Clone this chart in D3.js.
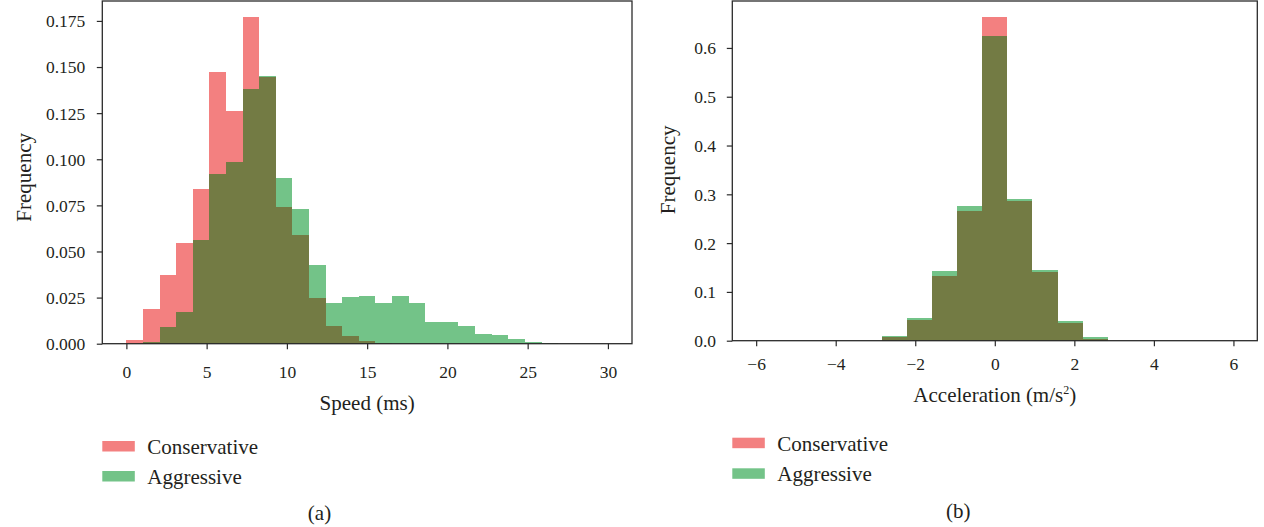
<!DOCTYPE html>
<html>
<head>
<meta charset="utf-8">
<script src="https://cdn.jsdelivr.net/npm/d3@7"></script>
<style>
  html, body { margin: 0; padding: 0; background: #fff; }
  svg { display: block; }
  text { font-family: "Liberation Serif", "Times New Roman", serif; fill: #231f20; }
</style>
</head>
<body>
<svg id="chart" width="1264" height="527"></svg>
<script>
// ---------------- data ----------------
const seriesNames = ["Conservative", "Aggressive"];

// (a) Speed histogram: 29 equal bins from 0 to 30
const speedBinStart = 0, speedBinEnd = 30, speedBinCount = 29;
const speedConservative = [0.0022, 0.0187, 0.0374, 0.0544, 0.0837, 0.1475, 0.1264, 0.1770, 0.1445, 0.0741,
  0.0591, 0.0246, 0.0094, 0.0042, 0.0012, 0.0002, 0.0001, 0, 0, 0, 0, 0, 0, 0, 0, 0, 0, 0, 0];
const speedAggressive = [0, 0.0009, 0.0089, 0.0174, 0.0564, 0.0922, 0.0984, 0.1380, 0.1450, 0.0899,
  0.0729, 0.0427, 0.0221, 0.0251, 0.0259, 0.0221, 0.0259, 0.0221, 0.0118, 0.0118,
  0.0096, 0.0053, 0.0049, 0.0024, 0.0009, 0.0004, 0.0001, 0.0001, 0.0001];
const speedXTicks = [0, 5, 10, 15, 20, 25, 30];
const speedYTicks = [0, 0.025, 0.05, 0.075, 0.1, 0.125, 0.15, 0.175];

// (b) Acceleration histogram: 19 equal bins from -6 to 6
const accBinStart = -6, accBinEnd = 6, accBinCount = 19;
const accConservative = [0, 0, 0, 0, 0, 0.0080, 0.0418, 0.1332, 0.2664, 0.6640, 0.2863, 0.1414, 0.0357, 0.0040, 0, 0, 0, 0, 0];
const accAggressive   = [0, 0, 0, 0, 0, 0.0090, 0.0459, 0.1428, 0.2754, 0.6244, 0.2898, 0.1449, 0.0398, 0.0070, 0, 0, 0, 0, 0];
const accXTicks = [-6, -4, -2, 0, 2, 4, 6];
const accYTicks = [0, 0.1, 0.2, 0.3, 0.4, 0.5, 0.6];

// ---------------- styling ----------------
const colRed = "#f38080";
const colGreen = "#73c388";
const colOverlap = "#737b44";
const spineCol = "#2b2b2b";
const tickFont = 17.5;
const labelFont = 21;

const svg = d3.select("#chart");
svg.append("rect").attr("width", 1264).attr("height", 527).attr("fill", "#fff");

function panel(cfg) {
  const g = svg.append("g");
  const x = d3.scaleLinear().domain(cfg.xDomain).range([cfg.left, cfg.right]);
  const y = d3.scaleLinear().domain(cfg.yDomain).range([cfg.bottom, cfg.top]);
  const w = (cfg.binEnd - cfg.binStart) / cfg.binCount;
  const bins = cfg.red.map((r, i) => ({
    x0: cfg.binStart + i * w, x1: cfg.binStart + (i + 1) * w,
    r: r, gr: cfg.green[i]
  }));

  const bars = g.append("g");
  const drawSet = (acc, color) => bars.append("g").selectAll("rect").data(bins).join("rect")
    .attr("x", d => x(d.x0))
    .attr("width", d => x(d.x1) - x(d.x0))
    .attr("y", d => y(acc(d)))
    .attr("height", d => y(0) - y(acc(d)))
    .attr("fill", color)
    .attr("shape-rendering", "crispEdges");
  drawSet(d => d.r, colRed);
  drawSet(d => d.gr, colGreen);
  drawSet(d => Math.min(d.r, d.gr), colOverlap);

  // frame
  g.append("rect")
    .attr("x", cfg.left).attr("y", cfg.top)
    .attr("width", cfg.right - cfg.left).attr("height", cfg.bottom - cfg.top)
    .attr("fill", "none").attr("stroke", spineCol).attr("stroke-width", 1.3);

  // x axis
  const xa = g.append("g").attr("transform", `translate(0,${cfg.bottom})`)
    .call(d3.axisBottom(x).tickValues(cfg.xTicks).tickSize(5.5).tickFormat(d3.format("")));
  xa.select(".domain").remove();
  xa.selectAll(".tick line").attr("stroke", spineCol).attr("stroke-width", 1.2);
  xa.selectAll(".tick text").attr("y", cfg.xLabelBaseline - cfg.bottom).attr("dy", null)
    .attr("font-size", tickFont).attr("font-family", "Liberation Serif").attr("fill", "#231f20");

  // y axis
  const ya = g.append("g").attr("transform", `translate(${cfg.left},0)`)
    .call(d3.axisLeft(y).tickValues(cfg.yTicks).tickSize(5.5).tickFormat(d3.format(cfg.yFormat)));
  ya.select(".domain").remove();
  ya.selectAll(".tick line").attr("stroke", spineCol).attr("stroke-width", 1.2);
  ya.selectAll(".tick text").attr("x", -cfg.yLabelGap).attr("dy", "0.34em")
    .attr("font-size", tickFont).attr("font-family", "Liberation Serif").attr("fill", "#231f20");

  // axis titles
  const xt = g.append("text")
    .attr("x", (cfg.left + cfg.right) / 2).attr("y", cfg.xTitleBaseline)
    .attr("text-anchor", "middle").attr("font-size", labelFont);
  cfg.xTitle(xt);

  g.append("text")
    .attr("transform", `translate(${cfg.yTitleX},${(cfg.top + cfg.bottom) / 2 + cfg.yTitleShift}) rotate(-90)`)
    .attr("text-anchor", "middle").attr("font-size", labelFont)
    .text("Frequency");

  // legend
  const lg = g.append("g");
  [colRed, colGreen].forEach((c, i) => {
    const cy = cfg.legendTop + i * cfg.legendStep;
    lg.append("rect").attr("x", cfg.left).attr("y", cy)
      .attr("width", 32.5).attr("height", 10.5).attr("fill", c);
    lg.append("text").attr("x", cfg.left + 45).attr("y", cy + 5.25)
      .attr("dy", "0.36em").attr("font-size", labelFont).text(seriesNames[i]);
  });

  // panel caption
  g.append("text").attr("x", cfg.captionX).attr("y", cfg.captionY)
    .attr("text-anchor", "middle").attr("font-size", labelFont).text(cfg.caption);
}

panel({
  left: 102.3, right: 632, top: 1, bottom: 343.7,
  xDomain: [-1.5, 31.5], yDomain: [0, 0.1858],
  binStart: speedBinStart, binEnd: speedBinEnd, binCount: speedBinCount,
  red: speedConservative, green: speedAggressive,
  xTicks: speedXTicks, yTicks: speedYTicks, yFormat: ".3f",
  xLabelBaseline: 378.5, yLabelGap: 17,
  xTitleBaseline: 410,
  xTitle: t => t.text("Speed (ms)"),
  yTitleX: 31, yTitleShift: 5,
  legendTop: 441, legendStep: 30,
  caption: "(a)", captionX: 319.5, captionY: 520
});

panel({
  left: 732.3, right: 1257.3, top: 1, bottom: 340.7,
  xDomain: [-6.6, 6.6], yDomain: [0, 0.6962],
  binStart: accBinStart, binEnd: accBinEnd, binCount: accBinCount,
  red: accConservative, green: accAggressive,
  xTicks: accXTicks, yTicks: accYTicks, yFormat: ".1f",
  xLabelBaseline: 370.3, yLabelGap: 16.3,
  xTitleBaseline: 402.3,
  xTitle: t => {
    t.append("tspan").text("Acceleration (m/s");
    t.append("tspan").attr("font-size", 12).attr("dy", -8).text("2");
    t.append("tspan").attr("dy", 8).text(")");
  },
  yTitleX: 675, yTitleShift: -1,
  legendTop: 437.7, legendStep: 30.6,
  caption: "(b)", captionX: 958.3, captionY: 518.3
});
</script>
</body>
</html>
